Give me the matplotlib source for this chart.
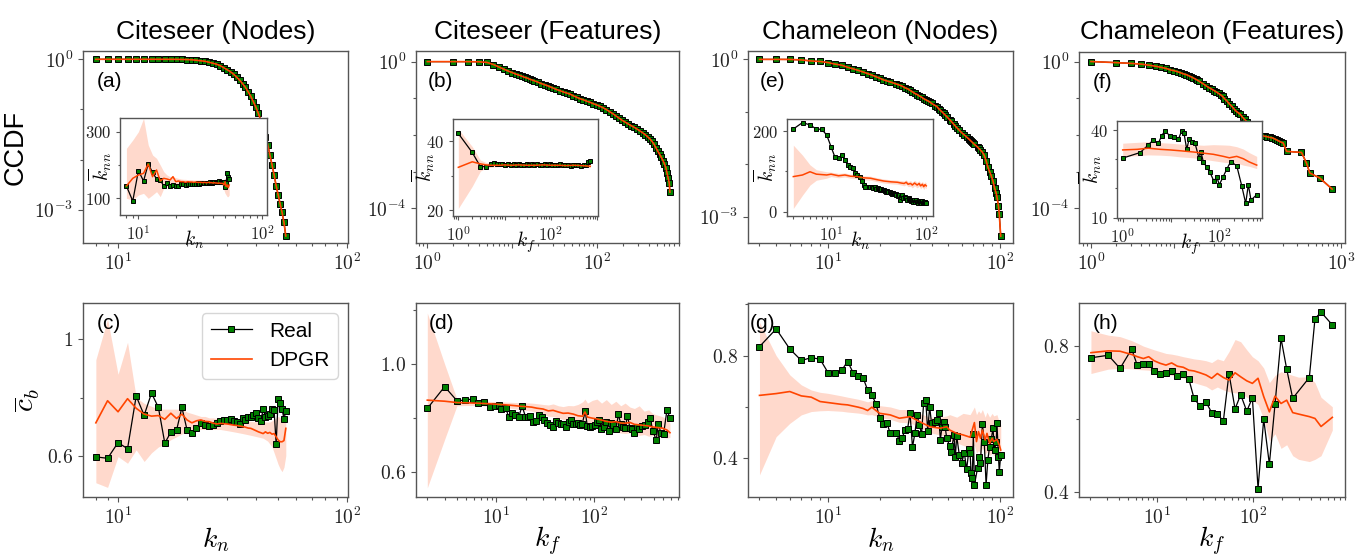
import matplotlib
matplotlib.use("Agg")
import matplotlib.pyplot as plt
from matplotlib.ticker import FixedLocator, FixedFormatter, NullFormatter, LogLocator

plt.rcParams['mathtext.fontset'] = 'cm'
plt.rcParams['font.family'] = ['Liberation Sans', 'DejaVu Sans']

# ---------------- data ----------------
titles = ['Citeseer (Nodes)', 'Citeseer (Features)', 'Chameleon (Nodes)', 'Chameleon (Features)']
panel_tags = ['(a)', '(b)', '(e)', '(f)', '(c)', '(d)', '(g)', '(h)']

# (a) Citeseer nodes CCDF
k_a = [8, 9, 10, 11, 12, 13, 14, 15, 16, 17, 18, 19, 20, 21, 22, 23, 24, 25, 26, 27, 28, 29, 30, 31,
       32, 33, 34, 35, 36, 37, 38, 39, 40, 41, 42, 43, 44, 45, 46, 47, 48, 49, 50, 51, 52, 53, 54]
ccdf_a = [1.0, 1.0, 1.0, 1.0, 1.0, 1.0, 1.0, 1.0, 1.0, 0.999, 0.997, 0.993, 0.987, 0.977, 0.955, 0.933,
          0.912, 0.871, 0.832, 0.794, 0.741, 0.676, 0.617, 0.562, 0.501, 0.437, 0.380, 0.324, 0.275,
          0.224, 0.182, 0.141, 0.110, 0.0832, 0.0603, 0.0417, 0.0282, 0.0200, 0.0126, 0.00794,
          0.00501, 0.00302, 0.00200, 0.00132, 0.000891, 0.000562, 0.000302]
# inset (a): knn vs k_n
knn_a_real = [137, 92, 183, 152, 203, 178, 158, 155, 137, 145, 138, 140, 137, 138, 142, 143, 140, 143,
              142, 143, 144, 143, 145, 144, 145, 146, 145, 147, 146, 147, 148, 147, 149, 148, 149, 150,
              149, 151, 150, 150, 148, 150, 135, 145, 177, 165, 158]
knn_a_dpgr = [137, 160, 170, 175, 203, 165, 185, 152, 160, 158, 155, 165, 150, 152, 150, 150, 148, 150,
              149, 149, 148, 149, 148, 148, 148, 147, 148, 147, 147, 148, 147, 147, 146, 147, 146, 146,
              145, 146, 145, 145, 145, 140, 150, 135, 140, 132, 140]
knn_a_hi = [250, 275, 300, 340, 260, 230, 220, 200, 180, 170, 165, 165, 162, 160, 158, 157, 157, 156,
            156, 156, 155, 155, 155, 155, 155, 155, 154, 154, 154, 154, 154, 154, 154, 154, 154, 154,
            154, 154, 154, 155, 155, 158, 160, 160, 160, 155, 155]
knn_a_lo = [100, 95, 110, 115, 100, 110, 120, 105, 130, 135, 138, 140, 140, 140, 141, 141, 141, 141,
            141, 141, 141, 141, 141, 141, 141, 141, 141, 141, 141, 141, 141, 141, 141, 141, 141, 141,
            141, 141, 141, 140, 135, 125, 115, 110, 105, 105, 110]

# (b) Citeseer features CCDF
k_b = [1, 2, 3, 4, 5, 6, 7, 8, 9, 10, 11, 12, 13, 14, 15, 16, 17, 18, 20, 22, 24, 26, 28, 30, 33, 36,
       40, 44, 48, 52, 57, 62, 68, 75, 82, 90, 98, 107, 117, 128, 140, 152, 165, 180, 195, 212, 230,
       250, 270, 292, 315, 340, 365, 390, 415, 440, 465, 490, 515, 540, 565, 590, 615, 640, 660, 680,
       700, 713]
ccdf_b = [1.0, 1.0, 0.998, 0.99, 0.955, 0.832, 0.708, 0.617, 0.550, 0.501, 0.457, 0.427, 0.398, 0.372,
          0.355, 0.331, 0.316, 0.302, 0.275, 0.251, 0.234, 0.219, 0.204, 0.191, 0.174, 0.162, 0.148,
          0.138, 0.129, 0.117, 0.107, 0.0977, 0.0912, 0.0832, 0.0776, 0.0708, 0.0661, 0.0603, 0.0550,
          0.0490, 0.0427, 0.0380, 0.0331, 0.0288, 0.0251, 0.0224, 0.0200, 0.0178, 0.0162, 0.0145,
          0.0129, 0.0115, 0.0102, 0.00891, 0.00776, 0.00661, 0.00550, 0.00437, 0.00355, 0.00295,
          0.00245, 0.00200, 0.00162, 0.00126, 0.000891, 0.000661, 0.000490, 0.000275]
# inset (b)
kin_b = [1, 2, 3, 4, 5, 6, 7, 8, 9, 10, 12, 14, 16, 18, 20, 23, 26, 30, 34, 39, 44, 50, 57, 65, 74, 84,
         95, 108, 123, 140, 160, 182, 207, 236, 268, 305, 347, 395, 450, 512, 583, 650, 713]
knn_b_real = [42.2, 36.7, 32.6, 32.6, 33.3, 33.6, 33.4, 33.3, 33.5, 33.2, 33.4, 33.2, 33.3, 33.1, 33.4,
              33.2, 33.0, 33.3, 33.2, 33.4, 33.1, 33.3, 33.0, 33.2, 33.3, 33.1, 33.4, 33.0, 33.2, 33.1,
              33.3, 33.0, 33.2, 33.1, 32.9, 33.2, 33.0, 33.1, 32.9, 33.0, 33.2, 34.0, 34.3]
kd_b = [1, 2, 3, 4, 5, 6, 8, 10, 14, 20, 30, 45, 70, 100, 150, 220, 320, 450, 600, 713]
knn_b_dpgr = [32.4, 34.0, 33.4, 33.1, 33.0, 33.0, 33.0, 33.1, 33.0, 33.1, 33.0, 33.0, 33.1, 33.0, 33.0,
              32.9, 33.0, 32.9, 32.8, 32.7]
knn_b_hi = [43.5, 38.4, 34.5, 33.8, 33.6, 33.5, 33.4, 33.4, 33.4, 33.4, 33.4, 33.3, 33.4, 33.3, 33.3,
            33.3, 33.3, 33.3, 33.2, 33.1]
knn_b_lo = [20.5, 26.9, 31.3, 32.2, 32.4, 32.5, 32.6, 32.7, 32.6, 32.7, 32.6, 32.6, 32.7, 32.6, 32.6,
            32.5, 32.6, 32.5, 32.4, 32.3]

# (e) Chameleon nodes CCDF (same degree grid as (g))
k_e = [4, 5, 6, 7, 8, 9, 10, 11, 12, 13, 14, 15, 16, 17, 18, 19, 20, 21, 22, 23, 25, 26, 27, 28, 29, 30,
       31, 32, 33, 34, 35, 36, 37, 38, 39, 40, 42, 43, 44, 45, 46, 47, 48, 49, 51, 52, 54, 55, 56, 58,
       60, 62, 64, 66, 67, 68, 69, 70, 71, 74, 75, 77, 79, 81, 83, 85, 87, 89, 91, 93, 95, 96, 98, 99,
       101]
ccdf_e = [1.0, 1.0, 0.998, 0.977, 0.933, 0.912, 0.871, 0.813, 0.776, 0.708, 0.661, 0.617, 0.575, 0.537,
          0.501, 0.468, 0.437, 0.407, 0.389, 0.372, 0.339, 0.324, 0.309, 0.288, 0.275, 0.257, 0.240,
          0.224, 0.214, 0.200, 0.191, 0.178, 0.170, 0.162, 0.155, 0.145, 0.132, 0.126, 0.115, 0.107,
          0.100, 0.0933, 0.0871, 0.0813, 0.0708, 0.0661, 0.0575, 0.0537, 0.0501, 0.0447, 0.0398,
          0.0363, 0.0331, 0.0302, 0.0288, 0.0275, 0.0263, 0.0251, 0.0240, 0.0214, 0.0204, 0.0186,
          0.0170, 0.0148, 0.0117, 0.00891, 0.00724, 0.00603, 0.00479, 0.00355, 0.00282, 0.00240,
          0.00158, 0.00112, 0.000427]
knn_e_real = [205, 221, 215, 205, 204, 190, 161, 135, 134, 140, 128, 115, 111, 109, 95, 90, 85, 75, 66,
              62, 62, 60, 62, 58, 60, 57, 58, 56, 55, 57, 53, 54, 52, 50, 51, 48, 49, 47, 45, 46, 44, 43,
              44, 41, 40, 42, 29, 37, 41, 33, 37, 34, 30, 33, 31, 28, 26, 29, 27, 23, 29, 25, 28, 25, 21,
              26, 24, 21, 26, 22, 24, 21, 23, 25, 22]
kd_e = [4, 5, 6, 7, 9, 10, 12, 14, 16, 19, 22, 26, 31, 36, 43, 50, 55, 59, 62, 65, 69, 72, 76, 81, 85,
        88, 92, 95, 98, 101]
knn_e_dpgr = [87, 91, 99, 93, 91, 93, 89, 91, 88, 87, 84, 83, 79, 76, 74, 73, 71, 70, 73, 68, 70, 66, 71,
              66, 70, 64, 68, 62, 67, 64]
knn_e_hi = [165, 140, 116, 104, 99, 98, 95, 96, 93, 92, 89, 88, 84, 81, 79, 78, 77, 76, 79, 75, 77, 73,
            78, 73, 77, 71, 75, 70, 74, 71]
knn_e_lo = [8, 41, 66, 78, 83, 87, 84, 86, 83, 82, 79, 78, 74, 71, 69, 68, 66, 64, 67, 62, 63, 59, 64,
            59, 63, 57, 61, 55, 60, 57]

# (f) Chameleon features CCDF
k_f = [1, 2, 3, 4, 5, 6, 7, 8, 9, 10, 11, 12, 13, 14, 15, 16, 17, 18, 19, 20, 22, 24, 26, 28, 30, 32,
       34, 36, 38, 40, 43, 46, 49, 52, 55, 58, 62, 66, 70, 75, 80, 86, 92, 98, 105, 114, 122, 130,
       140, 150, 160, 170, 180, 192, 203, 223, 337, 387, 424, 560, 787]
ccdf_f = [1.0, 0.933, 0.891, 0.851, 0.794, 0.741, 0.692, 0.646, 0.589, 0.562, 0.525, 0.490, 0.457,
          0.437, 0.407, 0.380, 0.355, 0.331, 0.309, 0.288, 0.251, 0.219, 0.195, 0.178, 0.162, 0.148,
          0.135, 0.123, 0.112, 0.0977, 0.0832, 0.0692, 0.0603, 0.0513, 0.0447, 0.0407, 0.0363, 0.0302,
          0.0263, 0.0224, 0.0191, 0.0162, 0.0138, 0.0120, 0.0107, 0.00955, 0.00912, 0.00891, 0.00851,
          0.00832, 0.00776, 0.00724, 0.00676, 0.00631, 0.00603, 0.00355, 0.00331, 0.00170, 0.000912,
          0.000661, 0.000331]
kin_f = [1, 2.3, 3.4, 4.3, 5.5, 6.4, 7.5, 9.6, 11.6, 14.3, 16.7, 18.7, 21.3, 23.8, 27, 31.6, 38.3, 42.1,
         47, 55.3, 64.8, 78.4, 89, 101, 122, 144, 174, 232, 294, 356, 404, 459, 603]
knn_f_real = [30.4, 32.3, 34.9, 36.6, 35.5, 38.0, 39.7, 38.0, 37.5, 36.8, 39.7, 38.9, 33.4, 36.8, 36.0,
              35.5, 30.4, 32.4, 29.2, 27.3, 25.5, 22.4, 24.1, 21.3, 24.1, 26.6, 29.2, 27.8, 21.0, 14.9,
              21.3, 16.0, 17.9]
kd_f = [1, 2, 3.4, 6, 9.6, 16, 29, 47, 76, 122, 163, 232, 317, 420, 603]
knn_f_dpgr = [33.2, 33.4, 33.8, 33.4, 33.2, 32.9, 32.5, 32.1, 31.7, 31.0, 30.5, 31.0, 30.2, 29.1, 28.0]
knn_f_hi = [35.5, 35.8, 36.0, 35.7, 35.5, 35.2, 35.0, 34.8, 35.0, 34.9, 34.8, 34.3, 33.5, 32.3, 31.0]
knn_f_lo = [31.0, 31.2, 31.5, 31.4, 31.2, 30.8, 30.5, 30.0, 29.5, 29.0, 28.8, 28.7, 28.0, 27.6, 26.8]

# (c) Citeseer nodes c_b
cb_c_real = [0.596, 0.591, 0.645, 0.624, 0.805, 0.739, 0.815, 0.766, 0.643, 0.681, 0.687, 0.766, 0.689,
             0.679, 0.694, 0.711, 0.705, 0.702, 0.707, 0.711, 0.720, 0.723, 0.724, 0.725, 0.719, 0.715,
             0.708, 0.729, 0.723, 0.732, 0.733, 0.741, 0.746, 0.728, 0.720, 0.760, 0.734, 0.736, 0.743,
             0.762, 0.757, 0.640, 0.795, 0.780, 0.760, 0.727, 0.752]
cb_c_dpgr = [0.713, 0.789, 0.751, 0.796, 0.763, 0.743, 0.736, 0.738, 0.725, 0.746, 0.728, 0.743, 0.723,
             0.713, 0.720, 0.723, 0.718, 0.717, 0.712, 0.709, 0.711, 0.710, 0.709, 0.707, 0.705, 0.704,
             0.702, 0.700, 0.698, 0.695, 0.694, 0.690, 0.686, 0.682, 0.679, 0.676, 0.682, 0.677, 0.680,
             0.674, 0.676, 0.665, 0.654, 0.648, 0.648, 0.652, 0.694]
cb_c_hi = [0.93, 1.07, 0.88, 0.99, 0.80, 0.78, 0.77, 0.76, 0.76, 0.76, 0.76, 0.76, 0.75, 0.745, 0.74,
           0.735, 0.735, 0.73, 0.73, 0.728, 0.727, 0.726, 0.725, 0.724, 0.723, 0.722, 0.721, 0.72, 0.72,
           0.719, 0.718, 0.717, 0.717, 0.716, 0.716, 0.716, 0.716, 0.716, 0.716, 0.72, 0.725, 0.73,
           0.735, 0.73, 0.725, 0.73, 0.73]
cb_c_lo = [0.507, 0.491, 0.597, 0.574, 0.62, 0.58, 0.61, 0.63, 0.64, 0.655, 0.665, 0.675, 0.68, 0.685,
           0.69, 0.69, 0.69, 0.69, 0.69, 0.69, 0.69, 0.688, 0.686, 0.684, 0.682, 0.68, 0.678, 0.676,
           0.674, 0.672, 0.67, 0.668, 0.666, 0.664, 0.662, 0.66, 0.655, 0.65, 0.64, 0.63, 0.61, 0.59,
           0.57, 0.555, 0.545, 0.56, 0.60]

# (d) Citeseer features c_b
k_d = [2.0, 3.0, 4.0, 4.84, 5.89, 6.6, 7.6, 8.7, 9.8, 10.6, 11.2, 12.6, 13.4, 14.5, 15.7, 17.0, 18.4,
       19.9, 21.0, 22.3, 23.8, 25.3, 27.4, 29.1, 31.0, 33.0, 35.2, 38.0, 40.2, 42.4, 45.2, 48.1, 51.2,
       54.5, 57.1, 60.8, 64.7, 67.9, 71.1, 75.1, 80.6, 84.5, 90.0, 94.3, 100.4, 105.2, 111.2, 117.4,
       125.0, 132.0, 139.5, 148.6, 155.7, 165.7, 175.0, 184.9, 195.3, 204.8, 216.4, 230.3, 241.3,
       253.0, 269.4, 286.6, 305.2, 325.2, 346.0, 368.0, 392.4, 424.4, 444.8, 473.5, 503.8, 545.4, 585.0]
cb_d_real = [0.835, 0.916, 0.864, 0.866, 0.871, 0.854, 0.859, 0.841, 0.844, 0.849, 0.834, 0.835, 0.804,
             0.819, 0.810, 0.804, 0.844, 0.804, 0.802, 0.808, 0.786, 0.788, 0.810, 0.804, 0.792, 0.782,
             0.773, 0.767, 0.789, 0.782, 0.779, 0.777, 0.765, 0.786, 0.792, 0.777, 0.779, 0.782, 0.773,
             0.779, 0.824, 0.770, 0.767, 0.770, 0.773, 0.786, 0.792, 0.760, 0.767, 0.786, 0.750, 0.782,
             0.774, 0.757, 0.814, 0.777, 0.767, 0.763, 0.807, 0.761, 0.757, 0.745, 0.767, 0.757, 0.770,
             0.773, 0.783, 0.798, 0.752, 0.717, 0.777, 0.745, 0.740, 0.829, 0.799]
kd_d = [2, 3, 4, 5, 6, 7, 8, 9, 10, 12, 14, 16, 18, 20, 23, 26, 30, 34, 38, 43, 48, 54, 61, 68, 76, 80,
        85, 95, 106, 118, 132, 148, 165, 185, 205, 230, 255, 285, 320, 355, 395, 440, 490, 545, 585]
cb_d_dpgr = [0.866, 0.862, 0.857, 0.856, 0.855, 0.854, 0.853, 0.852, 0.851, 0.849, 0.847, 0.845, 0.843,
             0.842, 0.840, 0.836, 0.833, 0.826, 0.828, 0.822, 0.817, 0.818, 0.814, 0.808, 0.806, 0.822,
             0.803, 0.799, 0.796, 0.792, 0.787, 0.784, 0.786, 0.781, 0.780, 0.783, 0.776, 0.774, 0.772,
             0.770, 0.766, 0.764, 0.762, 0.755, 0.745]
cb_d_hi = [1.19, 1.00, 0.870, 0.866, 0.865, 0.864, 0.862, 0.861, 0.860, 0.859, 0.858, 0.857, 0.856,
           0.856, 0.855, 0.853, 0.850, 0.848, 0.852, 0.845, 0.842, 0.846, 0.845, 0.850, 0.860, 0.870,
           0.855, 0.865, 0.870, 0.855, 0.868, 0.850, 0.862, 0.845, 0.855, 0.840, 0.835, 0.845, 0.825,
           0.830, 0.815, 0.810, 0.805, 0.795, 0.780]
cb_d_lo = [0.54, 0.72, 0.845, 0.846, 0.846, 0.845, 0.844, 0.843, 0.842, 0.839, 0.836, 0.833, 0.830,
           0.828, 0.825, 0.820, 0.815, 0.806, 0.805, 0.800, 0.794, 0.792, 0.788, 0.782, 0.778, 0.790,
           0.775, 0.765, 0.760, 0.758, 0.755, 0.750, 0.748, 0.744, 0.742, 0.745, 0.740, 0.735, 0.738,
           0.732, 0.735, 0.730, 0.728, 0.725, 0.728]

# (g) Chameleon nodes c_b
cb_g_real = [0.835, 0.904, 0.826, 0.781, 0.792, 0.786, 0.734, 0.734, 0.742, 0.777, 0.734, 0.721, 0.714,
             0.666, 0.647, 0.612, 0.558, 0.534, 0.539, 0.497, 0.497, 0.469, 0.478, 0.510, 0.513, 0.575,
             0.443, 0.497, 0.569, 0.530, 0.494, 0.617, 0.627, 0.506, 0.601, 0.536, 0.543, 0.549, 0.575,
             0.471, 0.523, 0.543, 0.523, 0.478, 0.448, 0.426, 0.491, 0.404, 0.487, 0.413, 0.383, 0.422,
             0.357, 0.435, 0.419, 0.342, 0.322, 0.495, 0.296, 0.361, 0.406, 0.383, 0.534, 0.465, 0.296,
             0.394, 0.445, 0.475, 0.517, 0.432, 0.465, 0.536, 0.406, 0.348, 0.413]
kd_g = [4, 5, 6, 7, 8, 9, 10, 12, 13, 15, 16, 17, 18, 19, 20, 23, 26, 30, 34, 39, 45, 49, 51, 56, 61,
        67, 71, 73, 75, 77, 79, 82, 84, 87, 90, 92, 96, 99, 101]
cb_g_dpgr = [0.645, 0.652, 0.660, 0.643, 0.638, 0.621, 0.617, 0.610, 0.608, 0.599, 0.594, 0.586, 0.599,
             0.586, 0.575, 0.569, 0.556, 0.562, 0.543, 0.523, 0.517, 0.523, 0.510, 0.497, 0.491, 0.482,
             0.539, 0.465, 0.504, 0.478, 0.510, 0.471, 0.497, 0.458, 0.478, 0.465, 0.474, 0.452, 0.432]
cb_g_hi = [0.93, 0.80, 0.725, 0.686, 0.666, 0.657, 0.653, 0.643, 0.638, 0.630, 0.625, 0.620, 0.624,
           0.612, 0.605, 0.600, 0.590, 0.590, 0.575, 0.560, 0.560, 0.565, 0.570, 0.560, 0.575, 0.570,
           0.600, 0.570, 0.585, 0.575, 0.590, 0.560, 0.580, 0.560, 0.575, 0.565, 0.570, 0.540, 0.530]
cb_g_lo = [0.335, 0.484, 0.536, 0.569, 0.582, 0.585, 0.586, 0.583, 0.580, 0.576, 0.573, 0.569, 0.570,
           0.565, 0.558, 0.552, 0.540, 0.538, 0.520, 0.500, 0.490, 0.485, 0.470, 0.460, 0.450, 0.440,
           0.450, 0.420, 0.430, 0.420, 0.440, 0.415, 0.425, 0.410, 0.420, 0.410, 0.415, 0.410, 0.400]

# (h) Chameleon features c_b
k_h = [2.05, 3.11, 4.12, 5.45, 6.24, 7.21, 8.19, 9.31, 10.75, 12.4, 14.2, 16.3, 18.8, 21.5, 24.3, 28,
       32.4, 37.1, 42.5, 49.1, 56.2, 65, 74.4, 86, 98.5, 112.8, 129.2, 148, 169.5, 195.8, 224.3, 259,
       386, 442, 511, 670]
cb_h_real = [0.768, 0.775, 0.739, 0.792, 0.747, 0.751, 0.751, 0.732, 0.723, 0.726, 0.733, 0.718, 0.723,
             0.709, 0.657, 0.636, 0.647, 0.618, 0.614, 0.595, 0.725, 0.628, 0.667, 0.622, 0.658, 0.410,
             0.600, 0.477, 0.641, 0.821, 0.737, 0.657, 0.714, 0.875, 0.893, 0.858]
kd_h = [2.05, 3.11, 4.12, 5.45, 6.24, 7.21, 8.19, 9.31, 10.75, 12.4, 14.2, 16.3, 18.8, 21.5, 24.3, 28,
        32.4, 37.1, 42.5, 49.1, 56.2, 65, 74.4, 86, 98.5, 112.8, 129.2, 148, 169.5, 195.8, 224.3, 259,
        298, 386, 442, 511, 670]
cb_h_dpgr = [0.782, 0.787, 0.786, 0.777, 0.771, 0.766, 0.771, 0.760, 0.753, 0.748, 0.754, 0.745, 0.742,
             0.734, 0.732, 0.727, 0.721, 0.712, 0.725, 0.714, 0.707, 0.727, 0.716, 0.705, 0.698, 0.712,
             0.662, 0.620, 0.663, 0.643, 0.652, 0.618, 0.614, 0.607, 0.602, 0.580, 0.605]
cb_h_hi = [0.842, 0.830, 0.826, 0.815, 0.808, 0.800, 0.795, 0.790, 0.785, 0.780, 0.778, 0.775, 0.771,
           0.768, 0.765, 0.763, 0.760, 0.755, 0.765, 0.760, 0.785, 0.818, 0.812, 0.790, 0.771, 0.760,
           0.740, 0.700, 0.720, 0.730, 0.725, 0.720, 0.715, 0.716, 0.700, 0.660, 0.634]
cb_h_lo = [0.725, 0.737, 0.739, 0.738, 0.736, 0.735, 0.734, 0.730, 0.727, 0.722, 0.720, 0.716, 0.712,
           0.705, 0.700, 0.695, 0.690, 0.680, 0.688, 0.680, 0.675, 0.672, 0.671, 0.660, 0.652, 0.640,
           0.600, 0.540, 0.560, 0.520, 0.530, 0.500, 0.490, 0.484, 0.490, 0.500, 0.570]

# tick labels
L10 = {0: r'$10^{0}$', 1: r'$10^{1}$', 2: r'$10^{2}$', 3: r'$10^{3}$',
       -3: r'$10^{-3}$', -4: r'$10^{-4}$'}

# ---------------- styling ----------------
SPINE = '#555555'
TXT = '#222222'
REAL_LC = 'black'
FACE = 'green'
DPGR_C = 'orangered'
W, H = 1368, 556

fig = plt.figure(figsize=(W / 100, H / 100), dpi=100)


def px_axes(l, t, r, b):
    ax = fig.add_axes([l / W, 1 - b / H, (r - l) / W, (b - t) / H])
    for s in ax.spines.values():
        s.set_color(SPINE)
        s.set_linewidth(1.0)
    return ax


def log_x(ax, lim, major, labels):
    ax.set_xscale('log')
    ax.set_xlim(lim)
    ax.xaxis.set_major_locator(FixedLocator(major))
    ax.xaxis.set_major_formatter(FixedFormatter(labels))
    ax.xaxis.set_minor_locator(LogLocator(base=10, subs=(2, 3, 4, 5, 6, 7, 8, 9), numticks=60))
    ax.xaxis.set_minor_formatter(NullFormatter())


def y_ticks(ax, lim, major, labels, minor, log=False):
    if log:
        ax.set_yscale('log')
    ax.set_ylim(lim)
    ax.yaxis.set_major_locator(FixedLocator(major))
    ax.yaxis.set_major_formatter(FixedFormatter(labels))
    ax.yaxis.set_minor_locator(FixedLocator(minor))
    ax.yaxis.set_minor_formatter(NullFormatter())


def tick_style(ax, size):
    ax.tick_params(which='both', colors=SPINE, labelcolor=TXT, labelsize=size, width=0.8)


def real_line(ax, x, y, ms):
    return ax.plot(x, y, color=REAL_LC, lw=0.9, marker='s', ms=ms, mfc=FACE, mec='black',
                   mew=0.7, zorder=3, label='Real')[0]


def dpgr_line(ax, x, y, lw=1.2):
    return ax.plot(x, y, color=DPGR_C, lw=lw, zorder=4, label='DPGR')[0]


def band(ax, x, lo, hi):
    ax.fill_between(x, lo, hi, color=DPGR_C, alpha=0.2, lw=0, zorder=1)


top_boxes = [(83, 51, 348, 243), (416, 51, 679, 243), (748, 51, 1013, 243), (1079, 52, 1345, 243)]
bot_boxes = [(83, 303, 348, 497), (416, 303, 679, 497), (748, 303, 1013, 497), (1079, 303, 1345, 497)]
inset_boxes = [(120, 118, 267, 215), (453, 119, 598, 216), (787, 119, 933, 216), (1117, 121, 1262, 218)]

MS_MAIN = 3.8
MS_IN = 2.6

# ---- top row: CCDF ----
ax_a = px_axes(*top_boxes[0])
real_line(ax_a, k_a, ccdf_a, MS_MAIN)
dpgr_line(ax_a, k_a, ccdf_a)
log_x(ax_a, (7.03, 100.9), [10, 100], [L10[1], L10[2]])
y_ticks(ax_a, (10 ** -3.66, 10 ** 0.165), [1, 1e-3], [L10[0], L10[-3]], [1e-1, 1e-2], log=True)

ax_b = px_axes(*top_boxes[1])
real_line(ax_b, k_b, ccdf_b, MS_MAIN)
dpgr_line(ax_b, k_b, ccdf_b)
log_x(ax_b, (0.736, 912), [1, 10, 100], [L10[0], '', L10[2]])
y_ticks(ax_b, (10 ** -4.95, 10 ** 0.29), [1, 1e-4], [L10[0], L10[-4]], [1e-1, 1e-2, 1e-3], log=True)

ax_e = px_axes(*top_boxes[2])
real_line(ax_e, k_e, ccdf_e, MS_MAIN)
dpgr_line(ax_e, k_e, ccdf_e)
log_x(ax_e, (3.43, 119), [10, 100], [L10[1], L10[2]])
y_ticks(ax_e, (10 ** -3.50, 10 ** 0.16), [1, 1e-3], [L10[0], L10[-3]], [1e-1, 1e-2], log=True)

ax_f = px_axes(*top_boxes[3])
real_line(ax_f, k_f, ccdf_f, MS_MAIN)
dpgr_line(ax_f, k_f, ccdf_f)
log_x(ax_f, (0.718, 1122), [1, 10, 100, 1000], [L10[0], '', '', L10[3]])
y_ticks(ax_f, (10 ** -4.95, 10 ** 0.26), [1, 1e-4], [L10[0], L10[-4]], [1e-1, 1e-2, 1e-3], log=True)

for ax, t in zip([ax_a, ax_b, ax_e, ax_f], titles):
    tick_style(ax, 14)
    ax.set_title(t, fontsize=19, pad=9, color='black')
ax_a.set_ylabel('CCDF', fontsize=19.5, color='black')

# ---- insets ----
ia = px_axes(*inset_boxes[0])
band(ia, k_a, knn_a_lo, knn_a_hi)
real_line(ia, k_a, knn_a_real, MS_IN)
dpgr_line(ia, k_a, knn_a_dpgr, lw=1.1)
log_x(ia, (7.1, 109), [10, 100], [L10[1], L10[2]])
y_ticks(ia, (50, 341), [100, 300], [r'$100$', r'$300$'], [200])
ia.set_xlabel(r'$k_n$', fontsize=14, labelpad=-10)
ia.set_ylabel(r'$\overline{k}_{nn}$', fontsize=14, labelpad=-21)

ib = px_axes(*inset_boxes[1])
band(ib, kd_b, knn_b_lo, knn_b_hi)
real_line(ib, kin_b, knn_b_real, MS_IN)
dpgr_line(ib, kd_b, knn_b_dpgr, lw=1.1)
log_x(ib, (0.767, 1047), [1, 10, 100, 1000], [L10[0], '', L10[2], ''])
y_ticks(ib, (18.3, 46.4), [20, 40], [r'$20$', r'$40$'], [30])
ib.set_xlabel(r'$k_f$', fontsize=14, labelpad=-10)
ib.set_ylabel(r'$\overline{k}_{nn}$', fontsize=14, labelpad=-8)

ie = px_axes(*inset_boxes[2])
band(ie, kd_e, knn_e_lo, knn_e_hi)
real_line(ie, k_e, knn_e_real, MS_IN)
dpgr_line(ie, kd_e, knn_e_dpgr, lw=1.1)
log_x(ie, (3.43, 119), [10, 100], [L10[1], L10[2]])
y_ticks(ie, (-10.7, 229.8), [0, 200], [r'$0$', r'$200$'], [100])
ie.set_xlabel(r'$k_n$', fontsize=14, labelpad=-10)
ie.set_ylabel(r'$\overline{k}_{nn}$', fontsize=14, labelpad=-20)

i_f = px_axes(*inset_boxes[3])
band(i_f, kd_f, knn_f_lo, knn_f_hi)
real_line(i_f, kin_f, knn_f_real, MS_IN)
dpgr_line(i_f, kd_f, knn_f_dpgr, lw=1.1)
log_x(i_f, (0.762, 776), [1, 10, 100], [L10[0], '', L10[2]])
y_ticks(i_f, (9.9, 43.1), [10, 40], [r'$10$', r'$40$'], [20, 30])
i_f.set_xlabel(r'$k_f$', fontsize=14, labelpad=-10)
i_f.set_ylabel(r'$\overline{k}_{nn}$', fontsize=14, labelpad=-10)

for ax in [ia, ib, ie, i_f]:
    ax.set_facecolor('white')
    tick_style(ax, 12)
    ax.tick_params(which='major', length=3)
    ax.tick_params(which='minor', length=1.8)

# ---- bottom row: c_b ----
ax_c = px_axes(*bot_boxes[0])
band(ax_c, k_a, cb_c_lo, cb_c_hi)
h_real = real_line(ax_c, k_a, cb_c_real, MS_MAIN)
h_dpgr = dpgr_line(ax_c, k_a, cb_c_dpgr)
log_x(ax_c, (7.03, 100.9), [10, 100], [L10[1], L10[2]])
y_ticks(ax_c, (0.458, 1.125), [0.6, 1.0], [r'$0.6$', r'$1$'], [0.8])
ax_c.legend(handles=[h_real, h_dpgr], loc='upper right', fontsize=15)

ax_d = px_axes(*bot_boxes[1])
band(ax_d, kd_d, cb_d_lo, cb_d_hi)
real_line(ax_d, k_d, cb_d_real, MS_MAIN)
dpgr_line(ax_d, kd_d, cb_d_dpgr)
log_x(ax_d, (1.535, 723), [10, 100], [L10[1], L10[2]])
y_ticks(ax_d, (0.506, 1.227), [0.6, 1.0], [r'$0.6$', r'$1.0$'], [0.8, 1.2])

ax_g = px_axes(*bot_boxes[2])
band(ax_g, kd_g, cb_g_lo, cb_g_hi)
real_line(ax_g, k_e, cb_g_real, MS_MAIN)
dpgr_line(ax_g, kd_g, cb_g_dpgr)
log_x(ax_g, (3.43, 119), [10, 100], [L10[1], L10[2]])
y_ticks(ax_g, (0.249, 1.005), [0.4, 0.8], [r'$0.4$', r'$0.8$'], [0.6, 1.0])

ax_h = px_axes(*bot_boxes[3])
band(ax_h, kd_h, cb_h_lo, cb_h_hi)
real_line(ax_h, k_h, cb_h_real, MS_MAIN)
dpgr_line(ax_h, kd_h, cb_h_dpgr)
log_x(ax_h, (1.54, 908), [10, 100], [L10[1], L10[2]])
y_ticks(ax_h, (0.387, 0.918), [0.4, 0.8], [r'$0.4$', r'$0.8$'], [0.6])

for ax, lab in zip([ax_c, ax_d, ax_g, ax_h], [r'$k_n$', r'$k_f$', r'$k_n$', r'$k_f$']):
    tick_style(ax, 14)
    ax.set_xlabel(lab, fontsize=20, labelpad=-2, color='black')
ax_c.set_ylabel(r'$\overline{c}_b$', fontsize=21, color='black')

# panel tags
tag_pos = [(0.05, 0.81), (0.045, 0.81), (0.045, 0.81), (0.053, 0.81),
           (0.053, 0.866), (0.05, 0.866), (0.008, 0.866), (0.053, 0.866)]
for ax, tag, (tx, ty) in zip([ax_a, ax_b, ax_e, ax_f, ax_c, ax_d, ax_g, ax_h], panel_tags, tag_pos):
    ax.text(tx, ty, tag, transform=ax.transAxes, fontsize=15, va='baseline', ha='left',
            color='black', zorder=6)

fig.savefig('out.png', dpi=100)
